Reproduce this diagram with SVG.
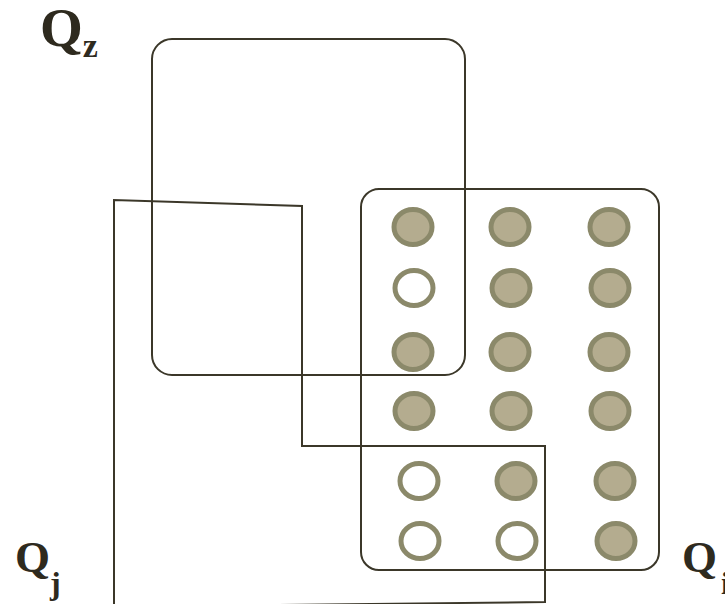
<svg xmlns="http://www.w3.org/2000/svg" width="725" height="604" viewBox="0 0 725 604">
<style>
.frame{fill:none;stroke:#3b3729;stroke-width:2}
.full{fill:#b4ac8f;stroke:#8b896a;stroke-width:5}
.empty{fill:#ffffff;stroke:#8b896a;stroke-width:5}
.lbl{font-family:"Liberation Serif",serif;font-weight:bold;fill:#2e2a1e}
</style>
<rect width="725" height="604" fill="#ffffff"/>
<g id="connectors">
<polyline class="frame" points="114,606 114,200 302,206 302,446 545,446 545,602 190,606"/>
</g>
<g id="set-z">
<rect class="frame" x="152" y="39" width="313" height="336" rx="20"/>
</g>
<g id="set-right">
<rect class="frame" x="361" y="189" width="298" height="381" rx="18"/>
</g>
<g id="points">
<ellipse class="full" cx="413" cy="227" rx="19" ry="17.5"/>
<ellipse class="full" cx="510" cy="227" rx="19" ry="17.5"/>
<ellipse class="full" cx="609" cy="227" rx="19" ry="17.5"/>
<ellipse class="empty" cx="414" cy="288" rx="19" ry="17.5"/>
<ellipse class="full" cx="511" cy="288" rx="19" ry="17.5"/>
<ellipse class="full" cx="610" cy="288" rx="19" ry="17.5"/>
<ellipse class="full" cx="413" cy="352" rx="19" ry="17.5"/>
<ellipse class="full" cx="510" cy="352" rx="19" ry="17.5"/>
<ellipse class="full" cx="609" cy="352" rx="19" ry="17.5"/>
<ellipse class="full" cx="414" cy="411" rx="19" ry="17.5"/>
<ellipse class="full" cx="511" cy="411" rx="19" ry="17.5"/>
<ellipse class="full" cx="610" cy="411" rx="19" ry="17.5"/>
<ellipse class="empty" cx="419" cy="481" rx="19" ry="17.5"/>
<ellipse class="full" cx="516" cy="481" rx="19" ry="17.5"/>
<ellipse class="full" cx="615" cy="481" rx="19" ry="17.5"/>
<ellipse class="empty" cx="420" cy="541" rx="19" ry="17.5"/>
<ellipse class="empty" cx="517" cy="541" rx="19" ry="17.5"/>
<ellipse class="full" cx="616" cy="541" rx="19" ry="17.5"/>
</g>
<g id="labels">
<text class="lbl" x="40" y="46" font-size="55">Q<tspan font-size="34" y="57">z</tspan></text>
<text class="lbl" x="15" y="572" font-size="45">Q<tspan font-size="32" y="594">j</tspan></text>
<text class="lbl" x="682" y="572" font-size="45">Q<tspan font-size="32" x="721" y="594">i</tspan></text>
</g>
</svg>
